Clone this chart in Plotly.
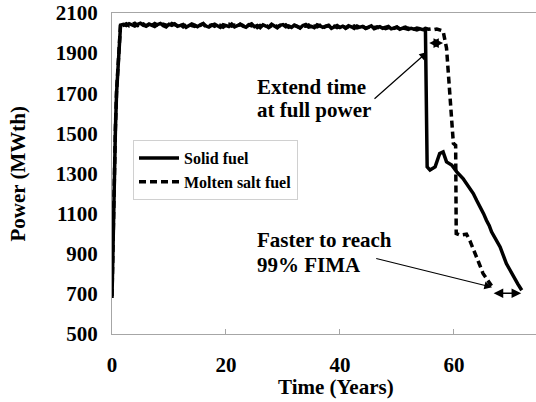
import numpy as np
import plotly.graph_objects as go

# ---------------- data ----------------
ramp_t = [0.0, 0.2, 0.4, 0.6, 0.8, 1.1, 1.5]
ramp_solid = [680, 1000, 1290, 1520, 1700, 1880, 2040]
ramp_molten = [690, 1010, 1300, 1530, 1710, 1890, 2045]

plateau_solid_t = list(np.arange(2.0, 55.01, 0.5))
plateau_solid = [
    2044, 2038, 2047, 2041, 2035, 2043, 2049, 2039, 2036, 2045,
    2040, 2033, 2042, 2048, 2037, 2031, 2044, 2039, 2046, 2034,
    2038, 2043, 2029, 2036, 2045, 2040, 2032, 2041, 2047, 2035,
    2030, 2039, 2044, 2036, 2028, 2042, 2038, 2033, 2045, 2031,
    2037, 2043, 2034, 2029, 2040, 2046, 2032, 2038, 2027, 2041,
    2035, 2030, 2044, 2037, 2026, 2039, 2042, 2031, 2036, 2028,
    2040, 2034, 2025, 2038, 2043, 2030, 2033, 2027, 2041, 2036,
    2029, 2035, 2039, 2024, 2032, 2038, 2028, 2034, 2026, 2037,
    2031, 2023, 2035, 2029, 2033, 2025, 2030, 2036, 2022, 2028,
    2032, 2024, 2027, 2033, 2021, 2026, 2030, 2019, 2025, 2022,
    2018, 2024, 2020, 2016, 2021, 2017, 2014,
]
tail_solid_t = [55.3, 55.8, 56.7, 57.5, 58.1, 58.7, 59.6, 60.5, 61.6, 62.5, 63.4,
                64.0, 64.6, 65.2, 65.7, 66.2, 66.6, 67.3, 68.1, 69.2, 69.8, 70.4, 71.2, 71.9]
tail_solid = [1333, 1317, 1333, 1400, 1408, 1358, 1342, 1308, 1275, 1240, 1200,
              1165, 1134, 1100, 1067, 1040, 1009, 975, 934, 851, 820, 785, 750, 718]

plateau_molten_t = list(np.arange(2.0, 57.51, 0.5))
plateau_molten = [
    2039, 2046, 2036, 2042, 2049, 2037, 2041, 2045, 2034, 2043,
    2038, 2047, 2040, 2032, 2044, 2039, 2035, 2048, 2041, 2036,
    2043, 2031, 2039, 2045, 2037, 2033, 2042, 2038, 2046, 2030,
    2036, 2041, 2034, 2043, 2038, 2029, 2040, 2044, 2035, 2039,
    2032, 2045, 2037, 2030, 2041, 2036, 2043, 2028, 2038, 2034,
    2040, 2027, 2036, 2042, 2031, 2038, 2033, 2041, 2029, 2035,
    2039, 2032, 2026, 2037, 2034, 2040, 2028, 2035, 2031, 2038,
    2025, 2033, 2036, 2029, 2034, 2027, 2031, 2037, 2024, 2032,
    2028, 2035, 2026, 2030, 2033, 2023, 2029, 2034, 2027, 2031,
    2025, 2030, 2022, 2028, 2032, 2024, 2029, 2021, 2026, 2030,
    2023, 2027, 2020, 2025, 2022, 2018, 2024, 2019, 2021, 2017,
    2020, 2016,
]
tail_molten_t = [58.1, 58.7, 59.3, 59.9, 60.3, 60.4, 61.05, 62.2, 62.8, 63.4, 64.3, 65.1, 66.0, 66.6]
tail_molten = [2010, 1925, 1675, 1450, 1440, 1001, 993, 998, 965, 918, 860, 802, 760, 740]

solid_t = ramp_t + plateau_solid_t + tail_solid_t
solid_p = ramp_solid + plateau_solid + tail_solid
molten_t = ramp_t + plateau_molten_t + tail_molten_t
molten_p = ramp_molten + plateau_molten + tail_molten

x_ticks = [0, 20, 40, 60]
y_ticks = [500, 700, 900, 1100, 1300, 1500, 1700, 1900, 2100]

FONT = "Liberation Serif"
GRAY = "#a6a6a6"

fig = go.Figure()
fig.add_trace(go.Scatter(
    x=molten_t, y=molten_p, mode="lines", name="Molten salt fuel",
    line=dict(color="black", width=3.5, dash="7px,4px"), legendrank=2,
    legendgroup="b"))
fig.add_trace(go.Scatter(
    x=solid_t, y=solid_p, mode="lines", name="Solid fuel",
    line=dict(color="black", width=3.5), legendrank=1, legendgroup="a"))

ann_font = dict(family=FONT, size=21, color="black", weight="bold")
annotations = [
    dict(x=25.1, y=1731, xref="x", yref="y", text="Extend time", showarrow=False,
         xanchor="left", yanchor="middle", font=ann_font),
    dict(x=25.1, y=1616, xref="x", yref="y", text="at full power", showarrow=False,
         xanchor="left", yanchor="middle", font=ann_font),
    dict(x=25.1, y=968, xref="x", yref="y", text="Faster to reach", showarrow=False,
         xanchor="left", yanchor="middle", font=ann_font),
    dict(x=25.1, y=843, xref="x", yref="y", text="99% FIMA", showarrow=False,
         xanchor="left", yanchor="middle", font=ann_font),
    # pointer arrows
    dict(x=55.3, y=1905, ax=45.8, ay=1666, xref="x", yref="y", axref="x", ayref="y",
         text="", showarrow=True, arrowhead=2, arrowsize=1.3, arrowwidth=1.2, arrowcolor="black"),
    dict(x=66.7, y=733, ax=46.1, ay=878, xref="x", yref="y", axref="x", ayref="y",
         text="", showarrow=True, arrowhead=2, arrowsize=1.3, arrowwidth=1.2, arrowcolor="black"),
    # double arrows
    dict(x=58.1, y=1950, ax=55.4, ay=1950, xref="x", yref="y", axref="x", ayref="y",
         text="", showarrow=True, arrowhead=2, startarrowhead=2, arrowside="end+start",
         arrowsize=1.2, startarrowsize=1.2, arrowwidth=1.6, arrowcolor="black"),
    dict(x=71.8, y=703, ax=66.7, ay=703, xref="x", yref="y", axref="x", ayref="y",
         text="", showarrow=True, arrowhead=2, startarrowhead=2, arrowside="end+start",
         arrowsize=1.2, startarrowsize=1.2, arrowwidth=1.6, arrowcolor="black"),
    # axis titles
    dict(x=(336 - 112) / 424, y=-0.165, xref="paper", yref="paper", text="Time (Years)",
         showarrow=False, xanchor="center", yanchor="middle", font=ann_font),
    dict(x=(17 - 112) / 424, y=0.5, xref="paper", yref="paper", text="Power (MWth)",
         showarrow=False, xanchor="center", yanchor="middle", textangle=-90, font=ann_font),
]

fig.update_layout(
    width=536, height=402,
    margin=dict(l=112, r=0, t=13, b=68),
    paper_bgcolor="white", plot_bgcolor="white",
    font=dict(family=FONT, color="black"),
    showlegend=True,
    legend=dict(x=(133 - 112) / 424, y=(334 - 140) / 321, xanchor="left", yanchor="top",
                bgcolor="white", bordercolor="#d0d0d0", borderwidth=1,
                font=dict(family=FONT, size=16, color="black", weight="bold"),
                tracegroupgap=6, traceorder="normal", itemwidth=40),
    annotations=annotations,
    xaxis=dict(range=[0, 74.4], tickvals=x_ticks, showgrid=False, zeroline=False,
               showline=True, linecolor=GRAY, linewidth=1, mirror=True,
               ticks="inside", ticklen=5, tickcolor=GRAY,
               tickfont=dict(family=FONT, size=21, color="black", weight="bold"),
               ticklabelstandoff=12),
    yaxis=dict(range=[500, 2100], tickvals=y_ticks, showgrid=False, zeroline=False,
               showline=True, linecolor=GRAY, linewidth=1, ticks="",
               tickfont=dict(family=FONT, size=21, color="black", weight="bold"),
               ticklabelstandoff=9),
)

fig.write_html("out.html")
